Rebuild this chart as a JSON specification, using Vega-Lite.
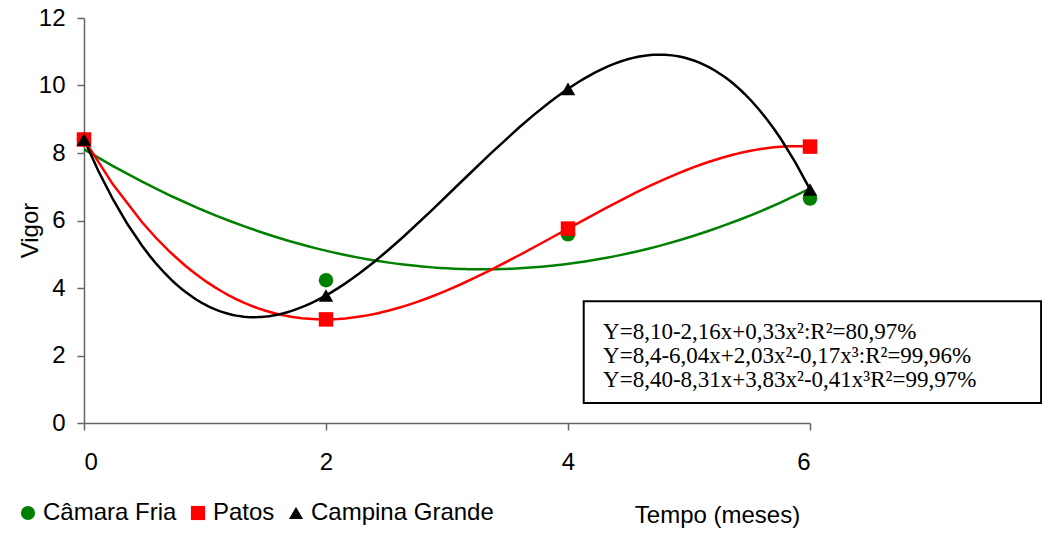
{
  "$schema": "https://vega.github.io/schema/vega-lite/v6.json",
  "width": 726,
  "height": 405,
  "autosize": {"type": "none"},
  "padding": {"left": 84, "top": 18, "right": 232, "bottom": 112},
  "background": "white",
  "config": {
    "view": {"stroke": null},
    "font": "Liberation Sans",
    "legend": {"labelFontSize": 24, "labelFont": "Liberation Sans", "labelColor": "#000000", "labelLimit": 500},
    "axis": {"grid": false, "domainColor": "#666666", "tickColor": "#666666", "labelColor": "#000000", "titleColor": "#000000", "labelFontSize": 24, "titleFontSize": 24, "titleFontWeight": "normal", "labelFont": "Liberation Sans", "titleFont": "Liberation Sans", "tickSize": 7, "domainWidth": 1.5, "tickWidth": 1.5}
  },
  "data": {
    "values": [
      {"tempo": 0, "vigor": 8.4, "serie": "Câmara Fria"},
      {"tempo": 2, "vigor": 4.23, "serie": "Câmara Fria"},
      {"tempo": 4, "vigor": 5.59, "serie": "Câmara Fria"},
      {"tempo": 6, "vigor": 6.65, "serie": "Câmara Fria"},
      {"tempo": 0, "vigor": 8.4, "serie": "Patos"},
      {"tempo": 2, "vigor": 3.07, "serie": "Patos"},
      {"tempo": 4, "vigor": 5.76, "serie": "Patos"},
      {"tempo": 6, "vigor": 8.19, "serie": "Patos"},
      {"tempo": 0, "vigor": 8.4, "serie": "Campina Grande"},
      {"tempo": 2, "vigor": 3.78, "serie": "Campina Grande"},
      {"tempo": 4, "vigor": 9.9, "serie": "Campina Grande"},
      {"tempo": 6, "vigor": 6.92, "serie": "Campina Grande"}
    ]
  },
  "layer": [
    {
      "transform": [
        {"filter": "datum.serie === 'Câmara Fria'"},
        {"regression": "vigor", "on": "tempo", "groupby": ["serie"], "method": "poly", "order": 2, "extent": [0, 6]}
      ],
      "mark": {"type": "line", "strokeWidth": 2.5},
      "encoding": {
        "x": {"field": "tempo", "type": "quantitative", "scale": {"domain": [0, 6], "nice": false}, "axis": {"values": [0, 2, 4, 6], "format": "d", "title": "Tempo (meses)", "labelPadding": 20, "titleX": 633, "titleY": 92, "titleAlign": "center", "titleBaseline": "middle"}},
        "y": {"field": "vigor", "type": "quantitative", "scale": {"domain": [0, 12], "nice": false}, "axis": {"values": [0, 2, 4, 6, 8, 10, 12], "format": "d", "title": "Vigor", "labelPadding": 12, "titleX": -54, "titleY": 212, "titleAlign": "center", "titleBaseline": "middle"}},
        "stroke": {"field": "serie", "type": "nominal", "scale": {"domain": ["Patos", "Câmara Fria", "Campina Grande"], "range": ["#FF0000", "#008000", "#000000"]}, "legend": null}
      }
    },
    {
      "transform": [
        {"filter": "datum.serie !== 'Câmara Fria'"},
        {"regression": "vigor", "on": "tempo", "groupby": ["serie"], "method": "poly", "order": 3, "extent": [0, 6]}
      ],
      "mark": {"type": "line", "strokeWidth": 2.5},
      "encoding": {
        "x": {"field": "tempo", "type": "quantitative"},
        "y": {"field": "vigor", "type": "quantitative"},
        "stroke": {"field": "serie", "type": "nominal", "legend": null}
      }
    },
    {
      "mark": {"type": "point", "filled": true, "opacity": 1, "size": 210},
      "encoding": {
        "x": {"field": "tempo", "type": "quantitative"},
        "y": {"field": "vigor", "type": "quantitative"},
        "color": {"field": "serie", "type": "nominal", "scale": {"domain": ["Câmara Fria", "Patos", "Campina Grande"], "range": ["#008000", "#FF0000", "#000000"]},
          "legend": {"title": null, "orient": "none", "direction": "horizontal", "legendX": -68, "legendY": 483, "symbolSize": 200, "labelOffset": 3, "columnPadding": 9, "padding": 0, "labelLimit": 500}},
        "shape": {"field": "serie", "type": "nominal", "scale": {"domain": ["Câmara Fria", "Patos", "Campina Grande"], "range": ["circle", "square", "triangle-up"]},
          "legend": {"title": null, "orient": "none", "direction": "horizontal", "legendX": -68, "legendY": 483, "symbolSize": 200, "labelOffset": 3, "columnPadding": 9, "padding": 0, "labelLimit": 500}}
      }
    },
    {
      "data": {"values": [{"x1": 4.13, "x2": 7.91, "y1": 3.61, "y2": 0.59}]},
      "mark": {"type": "rect", "fill": "white", "stroke": "black", "strokeWidth": 2, "clip": false},
      "encoding": {
        "x": {"field": "x1", "type": "quantitative"},
        "x2": {"field": "x2"},
        "y": {"field": "y1", "type": "quantitative"},
        "y2": {"field": "y2"}
      }
    },
    {
      "data": {"values": [{"eq": "Y=8,10-2,16x+0,33x²:R²=80,97%", "ex": 4.29, "ey": 2.70}, {"eq": "Y=8,4-6,04x+2,03x²-0,17x³:R²=99,96%", "ex": 4.29, "ey": 1.99}, {"eq": "Y=8,40-8,31x+3,83x²-0,41x³R²=99,97%", "ex": 4.29, "ey": 1.28}]},
      "mark": {"type": "text", "align": "left", "baseline": "middle", "font": "Liberation Serif", "fontSize": 23, "color": "black", "clip": false},
      "encoding": {
        "x": {"field": "ex", "type": "quantitative"},
        "y": {"field": "ey", "type": "quantitative"},
        "text": {"field": "eq"}
      }
    }
  ]
}
